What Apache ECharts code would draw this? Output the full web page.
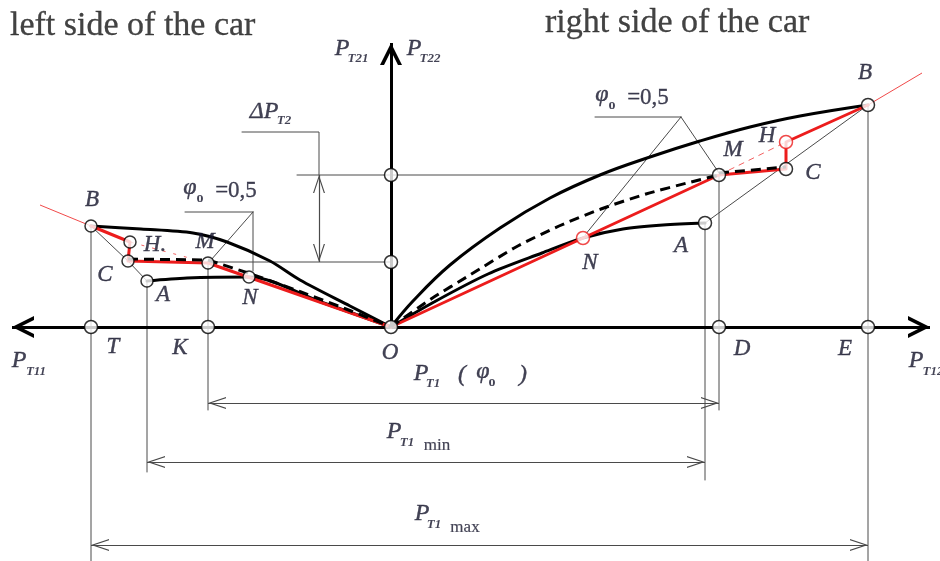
<!DOCTYPE html>
<html>
<head>
<meta charset="utf-8">
<title>Brake force distribution diagram</title>
<script src="https://cdn.jsdelivr.net/npm/echarts@6/dist/echarts.min.js"></script>
<style>
  html, body { margin: 0; padding: 0; background: #fff; }
  #chart { width: 940px; height: 561px; }
</style>
</head>
<body>
<div id="chart"></div>
<script>
// Diagram units: origin O at the axis crossing, x to the right (P_T12), y upward (P_T22).

// ---- right side of the car ----
const rightUpper  = [[0,0],[22,26],[59,62],[109,99],[159,129],[209,152],[259,170],[309,186],[359,200],[409,211],[477,222]];
const rightDashed = [[0,0],[40,28],[79,52],[125,80],[168,101],[210,118],[255,133],[300,145],[328,152]];
const rightDashedTail = [[328,154],[395,160]];
const rightLower  = [[0,0],[43,25],[97,53],[151,74],[192,89],[232,98],[272,102],[314,104]];
const rightRed    = [[0,0],[328,152],[395,158],[395,185],[477,222]];
const rightRedThin = [[328,152],[395,185]];
const rightRedRay  = [[477,222],[531,254]];
const rightNodes   = [[477,222],[395,158],[328,152],[314,104]];
const rightRedNodes = [[192,89],[395,185]];

// ---- left side of the car ----
const leftUpper  = [[-300,101],[-250,98],[-198,94],[-164,85],[-121,66],[-91,47],[-41,21],[0,0]];
const leftDashedTop = [[-263,68],[-183,67]];
const leftDashed = [[-183,67],[-140,53],[-90,35],[-45,18],[0,0]];
const leftLower  = [[-244,46],[-204,49],[-142,50],[-70,25],[0,0]];
const leftRed    = [[0,0],[-183,64],[-263,66],[-261,85],[-300,101]];
const leftRedThin = [[-183,64],[-261,85]];
const leftRedRay  = [[-300,101],[-351,122]];
const leftNodes   = [[-300,101],[-261,85],[-263,66],[-183,64],[-142,50],[-244,46]];

// ---- axis points ----
const axisNodes = [[0,0],[-300,0],[-183,0],[328,0],[477,0],[0,152],[0,65]];

// ---- thin construction lines ----
const guides = [
  [[-300,101],[-263,66],[-244,46]],
  [[314,104],[477,222]],
  [[-300,101],[-300,-234]],
  [[-244,46],[-244,-145]],
  [[-183,64],[-183,-83]],
  [[314,104],[314,-153]],
  [[328,152],[328,-83]],
  [[477,222],[477,-234]],
  [[-94,152],[328,152]],
  [[-183,65],[0,65]],
  [[-149,195],[-72,195],[-72,152]],
  [[-206,115],[-138,115]],
  [[-138,115],[-180,67]],
  [[-138,115],[-138,56]],
  [[204,210],[290,210]],
  [[290,210],[194,92]],
  [[290,210],[328,154]]
];

// ---- dimension arrows ----
const dimensions = [
  [[-183,-76],[328,-76]],
  [[-244,-135],[314,-135]],
  [[-300,-218],[477,-218]],
  [[-72,152],[-72,65]]
];

// ---- axes ----
const xAxisSpan = [[-379,0],[539,0]];
const yAxisSpan = [[0,0],[0,284]];

// ---- letters and captions: [text, x, y] ----
const pointLetters = [
  ['B',-299,127],['H.',-236,82],['C',-286,52],['M',-186,85],['A',-228,32],['N',-141,29],
  ['T',-278,-20],['K',-211,-21],['O',-1,-26],
  ['B',474,254],['H',376,191],['M',342,177],['C',422,154],['N',199,64],['A',290,81],
  ['D',351,-22],['E',454,-22]
];
const forceSymbols = [   // main letter P / ΔP
  ['P',-372,-34],['P',525,-34],['P',-49,278],['P',23,278],['ΔP',-127,215],
  ['P',30,-47],['P',3,-105],['P',31,-187]
];
const forceIndices = [
  ['T11',-355,-45],['T12',542,-45],['T21',-33,268],['T22',39,268],['T2',-107,206],
  ['T1',42,-57],['T1',16,-116],['T1',43,-198]
];
const plainIndices = [['min',46,-119],['max',74,-201]];
const phiSymbols = [['φ',-201,139],['φ',211,232],['φ',92,-45]];
const phiIndices = [['o',-191,129],['o',221,222],['o',101,-55]];
const phiValues  = [['=0,5',-155,136],['=0,5',257,229]];
const brackets   = [['(',71,-48],[')',132,-48]];
const captions   = [['left side of the car',-381,301],['right side of the car',154,304]];

const INK = '#14142a';
const RED = '#ec1c1c';
const GRAY = '#4a4a4a';
const SERIF = '"Liberation Serif", "Times New Roman", serif';

const thickArrow = 'path://M11,22 L22,44 L18,44 L11,30 L4,44 L0,44 Z M10.99,0 L11.01,0 L11,0.02 Z';
const thinArrow = 'path://M6,18 L12,36 L10.8,36 L6,21.6 L1.2,36 L0,36 Z M5.99,0 L6.01,0 L6,0.02 Z';

function path(data, color, width, opts) {
  return Object.assign({
    type: 'line', data: data, symbol: 'none', silent: true,
    lineStyle: { color: color, width: width, type: 'solid', cap: 'round', join: 'round' },
    z: 2
  }, opts || {});
}

function nodes(data, border, size) {
  return {
    type: 'scatter', data: data, symbol: 'circle', symbolSize: size || 12, silent: true,
    itemStyle: { color: '#fff', borderColor: border, borderWidth: 1.5 }, z: 10
  };
}

function texts(list, style) {
  return {
    type: 'scatter', symbolSize: 1, silent: true, z: 20,
    itemStyle: { color: 'rgba(0,0,0,0)' },
    data: list.map(function (t) {
      return {
        value: [t[1], t[2]],
        label: Object.assign({
          show: true, position: 'inside', formatter: t[0],
          fontFamily: SERIF, fontStyle: 'italic', fontSize: 23, color: INK,
          textBorderColor: INK, textBorderWidth: 0.4,
          align: 'center', verticalAlign: 'middle'
        }, style)
      };
    })
  };
}

const series = [];

// construction lines
guides.forEach(function (g) { series.push(path(g, GRAY, 1, { z: 1 })); });

// dimension arrows
series.push({
  type: 'line', data: [], silent: true,
  markLine: {
    silent: true, animation: false,
    symbol: [thinArrow, thinArrow], symbolSize: [12, 36],
    label: { show: false },
    lineStyle: { color: GRAY, width: 1.2, type: 'solid' },
    data: dimensions.map(function (d) { return [{ coord: d[0] }, { coord: d[1] }]; })
  }
});

// coordinate axes
series.push({
  type: 'line', data: [], silent: true,
  markLine: {
    silent: true, animation: false,
    symbol: [thickArrow, thickArrow], symbolSize: [22, 44],
    label: { show: false },
    lineStyle: { color: '#000', width: 3, type: 'solid' },
    data: [
      [{ coord: xAxisSpan[0] }, { coord: xAxisSpan[1] }],
      [{ coord: yAxisSpan[0], symbol: 'none' }, { coord: yAxisSpan[1] }]
    ]
  }
});

// characteristic curves
series.push(path(rightUpper, '#000', 3, { smooth: 0.4, z: 3 }));
series.push(path(rightLower, '#000', 3, { smooth: 0.3, z: 3 }));
series.push(path(leftUpper, '#000', 3, { smooth: 0.3, z: 3 }));
series.push(path(leftLower, '#000', 3, { smooth: 0.3, z: 3 }));

// ideal distribution lines
series.push(path(rightRedThin, RED, 1, { z: 4, lineStyle: { color: RED, width: 1, type: [6, 5], opacity: 0.7 } }));
series.push(path(leftRedThin, RED, 1, { z: 4, lineStyle: { color: RED, width: 1, type: [3, 8], opacity: 0.7 } }));
series.push(path(rightRedRay, RED, 1, { z: 4, lineStyle: { color: RED, width: 1, opacity: 0.8 } }));
series.push(path(leftRedRay, RED, 1, { z: 4, lineStyle: { color: RED, width: 1, opacity: 0.8 } }));
series.push(path(rightRed, RED, 3, { z: 5 }));
series.push(path(leftRed, RED, 3, { z: 5 }));

// dashed curves at φo = 0,5
var dash = { width: 3, type: [10, 6] };
series.push(path(rightDashed, '#000', 3, { smooth: 0.25, z: 6, lineStyle: Object.assign({ color: '#000' }, dash) }));
series.push(path(rightDashedTail, '#000', 3, { z: 6, lineStyle: Object.assign({ color: '#000' }, dash) }));
series.push(path(leftDashedTop, '#000', 3, { z: 6, lineStyle: Object.assign({ color: '#000' }, dash) }));
series.push(path(leftDashed, '#000', 3, { smooth: 0.3, z: 6, lineStyle: Object.assign({ color: '#000' }, dash) }));

// points
series.push(nodes(axisNodes, '#000', 13));
series.push(nodes(leftNodes, '#000', 12));
series.push(nodes(rightNodes, '#000', 13));
series.push(nodes(rightRedNodes, RED, 13));

// lettering
series.push(texts(pointLetters, { fontSize: 23 }));
series.push(texts(forceSymbols, { fontSize: 24 }));
series.push(texts(forceIndices, { fontSize: 13, fontWeight: 'bold', textBorderWidth: 0 }));
series.push(texts(plainIndices, { fontSize: 17, fontStyle: 'normal', textBorderWidth: 0.2 }));
series.push(texts(phiSymbols, { fontSize: 24 }));
series.push(texts(phiIndices, { fontSize: 14, fontWeight: 'bold', fontStyle: 'normal', textBorderWidth: 0 }));
series.push(texts(phiValues, { fontSize: 23, fontStyle: 'normal', textBorderWidth: 0.3 }));
series.push(texts(brackets, { fontSize: 24 }));
series.push(texts(captions, { fontSize: 34, fontStyle: 'normal', align: 'left', color: '#141414', textBorderColor: '#141414', textBorderWidth: 0.3 }));

const chart = echarts.init(document.getElementById('chart'), null, { renderer: 'canvas' });
chart.setOption({
  animation: false,
  backgroundColor: '#fff',
  grid: { left: 0, right: 0, top: 0, bottom: 0 },
  xAxis: { type: 'value', min: -391, max: 549, show: false },
  yAxis: { type: 'value', min: -234, max: 327, show: false },
  series: series
});
</script>
</body>
</html>
